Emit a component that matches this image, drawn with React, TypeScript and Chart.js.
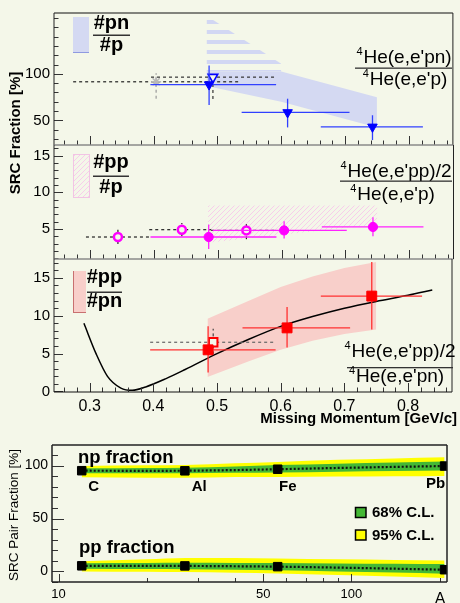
import React, { useEffect, useRef } from 'react';
import { Chart, registerables } from 'chart.js';

Chart.register(...registerables);

const W = 460;
const H = 603;
const BG = '#f4f7e9';
const FONT = '"Liberation Sans", Arial, Helvetica, sans-serif';

// ---------- Missing-momentum panels (shared x axis) ----------
const mmMin = 0.244;
const mmMax = 0.869;
const mmTickLabels = [0.3, 0.4, 0.5, 0.6, 0.7, 0.8];

// Panel 1 : #pn / #p
const pnYLabels = [50, 100];
const pnX = [0.487, 0.61, 0.743];
const pnY = [88.5, 58.5, 43.0];
const pnXLo = [0.395, 0.538, 0.662];
const pnXHi = [0.592, 0.707, 0.822];
const pnYLo = [66.5, 42.4, 28.8];
const pnYHi = [109.0, 73.3, 55.5];
const pnOpenX = [0.493];
const pnOpenY = [96.5];
const pnOpenXLo = [0.396];
const pnOpenXHi = [0.593];
const pnOpenYLo = [73.0];
const pnOpenYHi = [100.0];
const pnStarX = [0.404];
const pnStarY = [91.5];
const pnStarXLo = [0.274];
const pnStarXHi = [0.533];
const pnStarYLo = [73.3];
const pnStarYHi = [100.7];
const pnBandX = [0.483, 0.6, 0.75];
const pnBandLo = [87.0, 70.0, 42.4];
const pnBandHi = [102.5, 102.5, 75.0];
const pnBandUpX = [0.483, 0.6];
const pnBandUpLo = [102.5, 102.5];
const pnBandUpHi = [162.6, 111.0];

// Panel 2 : #pp / #p
const ppYLabels = [5, 10, 15];
const ppX = [0.486, 0.604, 0.743];
const ppY = [3.9, 4.8, 5.27];
const ppXLo = [0.395, 0.492, 0.663];
const ppXHi = [0.592, 0.702, 0.822];
const ppYLo = [2.27, 3.68, 3.99];
const ppYHi = [5.6, 6.04, 6.58];
const ppOpenX = [0.344, 0.444, 0.545];
const ppOpenY = [3.9, 4.9, 4.8];
const ppOpenXLo = [0.294, 0.393, 0.49];
const ppOpenXHi = [0.395, 0.49, 0.593];
const ppOpenYLo = [2.95, 4.0, 3.6];
const ppOpenYHi = [4.9, 5.8, 6.0];
const ppBandX = [0.485, 0.6, 0.75];
const ppBandLo = [3.1, 4.2, 5.6];
const ppBandHi = [8.2, 8.2, 8.2];

// Panel 3 : #pp / #pn
const rYLabels = [0, 5, 10, 15];
const rX = [0.486, 0.61, 0.743];
const rY = [5.5, 8.4, 12.6];
const rXLo = [0.395, 0.54, 0.663];
const rXHi = [0.592, 0.709, 0.822];
const rYLo = [2.5, 5.8, 8.2];
const rYHi = [8.6, 11.15, 17.1];
const rOpenX = [0.494];
const rOpenY = [6.5];
const rOpenXLo = [0.395];
const rOpenXHi = [0.592];
const rOpenYLo = [4.9];
const rOpenYHi = [8.3];
const rBandX = [0.485, 0.55, 0.6, 0.65, 0.7, 0.75];
const rBandLo = [1.9, 4.0, 5.5, 6.7, 7.6, 8.2];
const rBandHi = [9.6, 12.0, 13.8, 15.2, 16.3, 17.1];
const curveX = [0.291, 0.31, 0.328, 0.349, 0.367, 0.388, 0.42, 0.45, 0.5, 0.55, 0.6, 0.65, 0.7, 0.75, 0.8, 0.838];
const curveY = [9.0, 5.0, 2.0, 0.45, 0.15, 0.6, 1.7, 2.9, 5.0, 6.9, 8.6, 9.9, 11.0, 11.9, 12.7, 13.4];

// ---------- SRC pair fraction vs A ----------
const aTickLabels = [10, 50, 100];
const aYLabels = [0, 50, 100];
const nucA = [12, 27, 56, 208];
const nucNames = ['C', 'Al', 'Fe', 'Pb'];
const npFrac = [95.2, 95.1, 96.6, 99.6];
const ppFrac = [5.3, 5.2, 4.5, 1.6];
const bandA = [12, 20, 27, 40, 56, 90, 140, 208];
const npMid = [95.2, 95.1, 95.2, 95.8, 96.6, 97.8, 98.8, 99.6];
const np68Lo = [92.8, 92.7, 92.8, 93.2, 93.6, 94.3, 94.9, 95.3];
const np68Hi = [97.5, 97.7, 98.0, 99.2, 100.5, 101.8, 102.9, 103.8];
const np95Lo = [89.0, 88.6, 88.5, 89.2, 89.3, 89.7, 90.0, 90.3];
const np95Hi = [99.7, 100.3, 100.7, 102.3, 103.5, 105.5, 106.8, 107.9];
const ppMid = [5.3, 5.3, 5.2, 4.9, 4.5, 3.6, 2.6, 1.6];
const pp68Lo = [2.6, 2.3, 2.1, 1.6, 1.0, 0.0, -1.0, -2.2];
const pp68Hi = [7.8, 8.0, 8.1, 8.0, 7.9, 7.6, 7.3, 7.0];
const pp95Lo = [0.0, -0.3, -0.6, -1.3, -2.0, -3.3, -4.8, -6.2];
const pp95Hi = [9.5, 11.5, 12.8, 12.8, 12.3, 11.5, 10.9, 10.4];

// ---------- helpers ----------
const xy = (xs: number[], ys: number[]) => xs.map((x, i) => ({ x, y: ys[i] }));

function makePatterns() {
  const mk = (w: number, h: number, draw: (g: CanvasRenderingContext2D) => void) => {
    const c = document.createElement('canvas');
    c.width = w;
    c.height = h;
    const g = c.getContext('2d')!;
    draw(g);
    return g.createPattern(c, 'repeat')!;
  };
  return {
    blueDense: '#d4d9f2',
    blueStripe: mk(1, 10, (g) => {
      g.fillStyle = '#d2d7f3';
      g.fillRect(0, 0, 1, 4);
    }),
    pinkHatch: mk(5, 5, (g) => {
      g.fillStyle = '#f7cdea';
      for (let i = 0; i < 5; i++) g.fillRect(i, 4 - i, 1, 1);
    }),
    redDots: '#f8cfca',
  };
}

const errorBarPlugin = {
  id: 'errbars',
  beforeDatasetDraw(chart: any, args: any) {
    const ds = chart.data.datasets[args.index];
    const eb = ds.eb;
    if (!eb) return;
    const xs = chart.scales.x;
    const ys = chart.scales.y;
    const ctx = chart.ctx as CanvasRenderingContext2D;
    ctx.save();
    ctx.lineWidth = eb.width;
    ctx.setLineDash(eb.dash);
    ds.data.forEach((p: any, i: number) => {
      const px = xs.getPixelForValue(p.x);
      const py = ys.getPixelForValue(p.y);
      ctx.strokeStyle = eb.hColor;
      ctx.beginPath();
      ctx.moveTo(xs.getPixelForValue(eb.xl[i]), py);
      ctx.lineTo(xs.getPixelForValue(eb.xh[i]), py);
      ctx.stroke();
      ctx.strokeStyle = eb.vColor;
      ctx.beginPath();
      ctx.moveTo(px, ys.getPixelForValue(eb.yl[i]));
      ctx.lineTo(px, ys.getPixelForValue(eb.yh[i]));
      ctx.stroke();
    });
    ctx.restore();
  },
};

function framePlugin(f: any) {
  return {
    id: 'frame',
    afterDatasetsDraw(chart: any) {
      const ctx = chart.ctx as CanvasRenderingContext2D;
      const a = chart.chartArea;
      const xs = chart.scales.x;
      const ys = chart.scales.y;
      ctx.save();
      ctx.setLineDash([]);
      ctx.lineWidth = 1;
      ctx.strokeStyle = f.tickColor;
      const seg = (x1: number, y1: number, x2: number, y2: number) => {
        ctx.beginPath();
        ctx.moveTo(x1, y1);
        ctx.lineTo(x2, y2);
        ctx.stroke();
      };
      for (let v = Math.ceil(ys.min / f.yMinor) * f.yMinor; v <= ys.max + 1e-9; v += f.yMinor) {
        const y = Math.round(ys.getPixelForValue(v)) + 0.5;
        const major = f.yMajor.some((m: number) => Math.abs(m - v) < 1e-6);
        seg(a.left, y, a.left + (major ? f.yMajorLen : f.yMinorLen), y);
      }
      const xt = (v: number, len: number) => {
        const x = Math.round(xs.getPixelForValue(v)) + 0.5;
        seg(x, a.bottom, x, a.bottom - len);
      };
      f.xMinor.forEach((v: number) => xt(v, f.xMinorLen));
      f.xMajor.forEach((v: number) => xt(v, f.xMajorLen));
      ctx.lineWidth = f.lw;
      ctx.strokeStyle = f.topColor;
      seg(a.left, a.top, a.right, a.top);
      ctx.strokeStyle = f.bottomColor;
      seg(a.left, a.bottom, a.right, a.bottom);
      ctx.strokeStyle = f.sideColor;
      seg(a.left, a.top, a.left, a.bottom);
      seg(a.right, a.top, a.right, a.bottom);
      ctx.restore();
    },
  };
}

function textPlugin(draw: (ctx: CanvasRenderingContext2D, chart: any) => void) {
  return {
    id: 'texts',
    afterDraw(chart: any) {
      const ctx = chart.ctx as CanvasRenderingContext2D;
      ctx.save();
      draw(ctx, chart);
      ctx.restore();
    },
  };
}

function drawHe(ctx: CanvasRenderingContext2D, cx: number, base: number, main: string, size: number) {
  ctx.font = `${size}px ${FONT}`;
  const wMain = ctx.measureText(main).width;
  ctx.font = `${Math.round(size * 0.6)}px ${FONT}`;
  const wSup = ctx.measureText('4').width;
  const start = cx - (wMain + wSup + 1) / 2;
  ctx.textAlign = 'left';
  ctx.textBaseline = 'alphabetic';
  ctx.fillStyle = '#000';
  ctx.fillText('4', start, base - size * 0.42);
  ctx.font = `${size}px ${FONT}`;
  ctx.fillText(main, start + wSup + 1, base);
}

function drawFrac(ctx: CanvasRenderingContext2D, cx: number, top: string, bottom: string, b1: number, b2: number) {
  ctx.fillStyle = '#000';
  ctx.font = `bold 20px ${FONT}`;
  ctx.textAlign = 'center';
  ctx.textBaseline = 'alphabetic';
  ctx.fillText(top, cx, b1);
  ctx.fillText(bottom, cx, b2);
}

const minorMM: number[] = [];
for (let i = 13; i <= 43; i++) minorMM.push(i * 0.02);

function yScale(min: number, max: number, labels: number[], width: number, size: number) {
  return {
    type: 'linear',
    min,
    max,
    afterBuildTicks: (s: any) => {
      s.ticks = labels.map((v) => ({ value: v }));
    },
    afterFit: (s: any) => {
      s.width = width;
    },
    grid: { display: false, drawTicks: false },
    border: { display: false },
    ticks: {
      color: '#000',
      font: { family: FONT, size },
      padding: 4,
      autoSkip: false,
      callback: (v: any) => String(v),
    },
  };
}

function common(padding: any, scales: any) {
  return {
    responsive: false,
    animation: false,
    events: [],
    layout: { padding },
    plugins: { legend: { display: false }, tooltip: { enabled: false } },
    scales,
  };
}

const xHidden = { type: 'linear', min: mmMin, max: mmMax, display: false };

function band(xs: number[], lo: number[], hi: number[], fill: any, order: number) {
  return [
    { data: xy(xs, lo), borderWidth: 0, pointRadius: 0, fill: false, order, borderColor: 'rgba(0,0,0,0)' },
    { data: xy(xs, hi), borderWidth: 0, pointRadius: 0, fill: '-1', backgroundColor: fill, order, borderColor: 'rgba(0,0,0,0)' },
  ];
}

function pts(xs: number[], ys: number[], style: any, eb: any, order: number) {
  return {
    data: xy(xs, ys),
    showLine: false,
    order,
    eb,
    ...style,
  };
}

export default function App() {
  const c1 = useRef<HTMLCanvasElement>(null);
  const c2 = useRef<HTMLCanvasElement>(null);
  const c3 = useRef<HTMLCanvasElement>(null);
  const c4 = useRef<HTMLCanvasElement>(null);

  useEffect(() => {
    const P = makePatterns();
    const frameTop = {
      tickColor: '#333',
      yMajorLen: 9,
      yMinorLen: 4.5,
      xMajor: mmTickLabels,
      xMinor: minorMM,
      xMajorLen: 9,
      xMinorLen: 4.5,
      lw: 1,
      sideColor: '#222',
    };

    // ---- panel 1 ----
    const ch1 = new Chart(c1.current!, {
      type: 'line',
      data: {
        datasets: [
          ...band(pnBandX, pnBandLo, pnBandHi, P.blueDense, 10),
          ...band(pnBandUpX, pnBandUpLo, pnBandUpHi, P.blueStripe, 10),
          pts(pnStarX, pnStarY, { pointStyle: 'star', pointRadius: 5, borderColor: '#b8b8b8', pointBorderColor: '#b8b8b8', pointBorderWidth: 1.5 },
            { xl: pnStarXLo, xh: pnStarXHi, yl: pnStarYLo, yh: pnStarYHi, hColor: '#222', vColor: '#999', dash: [3, 3], width: 1.2 }, 3),
          pts(pnOpenX, pnOpenY, { pointStyle: 'triangle', rotation: 180, pointRadius: 5.5, pointBackgroundColor: BG, pointBorderColor: '#0000ff', pointBorderWidth: 1.6 },
            { xl: pnOpenXLo, xh: pnOpenXHi, yl: pnOpenYLo, yh: pnOpenYHi, hColor: '#333', vColor: '#333', dash: [3, 3], width: 1.2 }, 2),
          pts(pnX, pnY, { pointStyle: 'triangle', rotation: 180, pointRadius: 5.5, pointBackgroundColor: '#0000ff', pointBorderColor: '#0000ff', pointBorderWidth: 1 },
            { xl: pnXLo, xh: pnXHi, yl: pnYLo, yh: pnYHi, hColor: '#3040ff', vColor: '#3040ff', dash: [], width: 1.3 }, 1),
        ] as any,
      },
      options: common({ left: 0, right: 4, top: 7, bottom: H - 145 }, {
        x: xHidden,
        y: yScale(23.5, 165.5, pnYLabels, 54, 15),
      }) as any,
      plugins: [
        errorBarPlugin,
        framePlugin({ ...frameTop, yMajor: [50, 100], yMinor: 10, topColor: '#111', bottomColor: '#8a8a8a' }),
        textPlugin((ctx) => {
          ctx.fillStyle = P.blueDense;
          ctx.fillRect(73, 17, 16, 36);
          ctx.fillStyle = '#8f9ae0';
          ctx.fillRect(73, 52, 16, 1);
          drawFrac(ctx, 111.5, '#pn', '#p', 28.5, 50.5);
          ctx.fillStyle = '#333';
          ctx.fillRect(93, 34.5, 37, 1.5);
          drawHe(ctx, 404, 63, "He(e,e'pn)", 19);
          ctx.fillStyle = '#333';
          ctx.fillRect(355, 67.5, 97, 1.3);
          drawHe(ctx, 405, 85, "He(e,e'p)", 19);
          ctx.save();
          ctx.translate(16, 133);
          ctx.rotate(-Math.PI / 2);
          ctx.font = `bold 15px ${FONT}`;
          ctx.textAlign = 'center';
          ctx.textBaseline = 'middle';
          ctx.fillStyle = '#000';
          ctx.fillText('SRC Fraction [%]', 0, 0);
          ctx.restore();
        }),
      ],
    });

    // ---- panel 2 ----
    const ch2 = new Chart(c2.current!, {
      type: 'line',
      data: {
        datasets: [
          ...band(ppBandX, ppBandLo, ppBandHi, P.pinkHatch, 10),
          pts(ppOpenX, ppOpenY, { pointStyle: 'circle', pointRadius: 4, pointBackgroundColor: BG, pointBorderColor: '#ff00ff', pointBorderWidth: 2.5 },
            { xl: ppOpenXLo, xh: ppOpenXHi, yl: ppOpenYLo, yh: ppOpenYHi, hColor: '#222', vColor: '#222', dash: [3, 3], width: 1.2 }, 2),
          pts(ppX, ppY, { pointStyle: 'circle', pointRadius: 4.6, pointBackgroundColor: '#ff00ff', pointBorderColor: '#ff00ff', pointBorderWidth: 1 },
            { xl: ppXLo, xh: ppXHi, yl: ppYLo, yh: ppYHi, hColor: '#ff22ff', vColor: '#ff22ff', dash: [], width: 1.3 }, 1),
        ] as any,
      },
      options: common({ left: 0, right: 4, top: 145, bottom: H - 259 }, {
        x: xHidden,
        y: yScale(0.9, 16.45, ppYLabels, 54, 15),
      }) as any,
      plugins: [
        errorBarPlugin,
        framePlugin({ ...frameTop, yMajor: [5, 10, 15], yMinor: 1, topColor: '#8a8a8a', bottomColor: '#8a8a8a' }),
        textPlugin((ctx) => {
          ctx.fillStyle = P.pinkHatch;
          ctx.fillRect(73, 154, 17, 44);
          ctx.strokeStyle = '#f2c4e4';
          ctx.lineWidth = 1;
          ctx.strokeRect(73.5, 154.5, 16, 43);
          drawFrac(ctx, 111, '#pp', '#p', 168.3, 193.3);
          ctx.fillStyle = '#333';
          ctx.fillRect(93, 175.5, 36, 1.5);
          drawHe(ctx, 396, 176.7, "He(e,e'pp)/2", 19);
          ctx.fillStyle = '#333';
          ctx.fillRect(340, 180.5, 112, 1.3);
          drawHe(ctx, 392.5, 200, "He(e,e'p)", 19);
        }),
      ],
    });

    // ---- panel 3 ----
    const ch3 = new Chart(c3.current!, {
      type: 'line',
      data: {
        datasets: [
          ...band(rBandX, rBandLo, rBandHi, P.redDots, 10),
          {
            data: xy(curveX, curveY),
            borderColor: '#000',
            borderWidth: 1.5,
            pointRadius: 0,
            fill: false,
            cubicInterpolationMode: 'monotone',
            order: 5,
          },
          pts(rOpenX, rOpenY, { pointStyle: 'rect', pointRadius: 6, pointBackgroundColor: BG, pointBorderColor: '#ff0000', pointBorderWidth: 2 },
            { xl: rOpenXLo, xh: rOpenXHi, yl: rOpenYLo, yh: rOpenYHi, hColor: '#666', vColor: '#444', dash: [3, 3], width: 1.2 }, 2),
          pts(rX, rY, { pointStyle: 'rect', pointRadius: 7, pointBackgroundColor: '#ff0000', pointBorderColor: '#ff0000', pointBorderWidth: 1 },
            { xl: rXLo, xh: rXHi, yl: rYLo, yh: rYHi, hColor: '#ff3030', vColor: '#ff3030', dash: [], width: 1.3 }, 1),
        ] as any,
      },
      options: common({ left: 0, right: 4, top: 259, bottom: H - 392 - 22 }, {
        x: {
          type: 'linear',
          min: mmMin,
          max: mmMax,
          afterBuildTicks: (s: any) => {
            s.ticks = mmTickLabels.map((v) => ({ value: v }));
          },
          afterFit: (s: any) => {
            s.height = 22;
          },
          grid: { display: false, drawTicks: false },
          border: { display: false },
          ticks: {
            color: '#000',
            font: { family: FONT, size: 16 },
            padding: 5,
            maxRotation: 0,
            autoSkip: false,
            callback: (v: any) => Number(v).toFixed(1),
          },
        },
        y: yScale(-0.07, 17.5, rYLabels, 54, 15),
      }) as any,
      plugins: [
        errorBarPlugin,
        framePlugin({ ...frameTop, yMajor: [0, 5, 10, 15], yMinor: 1, topColor: '#8a8a8a', bottomColor: '#111' }),
        textPlugin((ctx) => {
          ctx.fillStyle = P.redDots;
          ctx.fillRect(73, 271, 13, 42);
          ctx.fillStyle = '#c87070';
          ctx.fillRect(73, 271, 1, 42);
          ctx.fillRect(73, 312, 13, 1);
          drawFrac(ctx, 104.5, '#pp', '#pn', 283.3, 306.7);
          ctx.fillStyle = '#333';
          ctx.fillRect(87, 291.5, 35, 1.5);
          drawHe(ctx, 400, 356.7, "He(e,e'pp)/2", 19);
          ctx.fillStyle = '#333';
          ctx.fillRect(347, 367, 106, 1.3);
          drawHe(ctx, 396.5, 382, "He(e,e'pn)", 19);
          ctx.font = `bold 15px ${FONT}`;
          ctx.textAlign = 'right';
          ctx.textBaseline = 'alphabetic';
          ctx.fillStyle = '#000';
          ctx.fillText('Missing Momentum [GeV/c]', 457, 423);
        }),
      ],
    });

    // ---- pair fraction vs A ----
    const bandSet = (lo: number[], hi: number[], color: string, order: number) =>
      band(bandA, lo, hi, color, order).map((d: any) => ({ ...d, cubicInterpolationMode: 'monotone' }));
    const midLine = (ys: number[]) => ({
      data: xy(bandA, ys),
      borderColor: '#111',
      borderWidth: 2.2,
      borderDash: [2, 2],
      pointRadius: 0,
      fill: false,
      cubicInterpolationMode: 'monotone',
      order: 3,
    });
    const markers = (ys: number[]) => ({
      data: xy(nucA, ys),
      showLine: false,
      pointStyle: 'rect',
      pointRadius: 6,
      pointBackgroundColor: '#000',
      pointBorderColor: '#000',
      pointBorderWidth: 1,
      order: 1,
    });
    const YEL = '#ffff00';
    const GRN = '#44b835';
    const ch4 = new Chart(c4.current!, {
      type: 'line',
      data: {
        datasets: [
          ...bandSet(np95Lo, np95Hi, YEL, 6),
          ...bandSet(np68Lo, np68Hi, GRN, 5),
          midLine(npMid),
          markers(npFrac),
          ...bandSet(pp95Lo, pp95Hi, YEL, 6),
          ...bandSet(pp68Lo, pp68Hi, GRN, 5),
          midLine(ppMid),
          markers(ppFrac),
        ] as any,
      },
      options: common({ left: 0, right: 13, top: 445, bottom: 0 }, {
        x: {
          type: 'logarithmic',
          min: 9.5,
          max: 212,
          afterBuildTicks: (s: any) => {
            s.ticks = aTickLabels.map((v) => ({ value: v }));
          },
          afterFit: (s: any) => {
            s.height = H - 582;
          },
          grid: { display: false, drawTicks: false },
          border: { display: false },
          ticks: {
            color: '#000',
            font: { family: FONT, size: 13 },
            padding: 5,
            maxRotation: 0,
            autoSkip: false,
            callback: (v: any) => String(v),
          },
        },
        y: yScale(-10, 119.5, aYLabels, 52, 14),
      }) as any,
      plugins: [
        framePlugin({
          tickColor: '#333',
          yMajor: [0, 50, 100],
          yMinor: 10,
          yMajorLen: 12,
          yMinorLen: 6,
          xMajor: [10, 50, 100],
          xMinor: [20, 30, 40, 60, 70, 80, 90, 200],
          xMajorLen: 8,
          xMinorLen: 4,
          lw: 1.5,
          topColor: '#222',
          bottomColor: '#222',
          sideColor: '#222',
        }),
        textPlugin((ctx) => {
          ctx.fillStyle = '#000';
          ctx.textAlign = 'left';
          ctx.textBaseline = 'alphabetic';
          ctx.font = `bold 18.5px ${FONT}`;
          ctx.fillText('np fraction', 78, 463.3);
          ctx.fillText('pp fraction', 79, 553.3);
          ctx.font = `bold 15px ${FONT}`;
          const namePos = [
            [88.3, 491],
            [191.7, 491],
            [279, 491],
            [426, 488],
          ];
          nucNames.forEach((n, i) => ctx.fillText(n, namePos[i][0], namePos[i][1]));
          ctx.lineWidth = 1.5;
          ctx.strokeStyle = '#000';
          ctx.fillStyle = GRN;
          ctx.fillRect(355.5, 507.5, 10.5, 10);
          ctx.strokeRect(355.5, 507.5, 10.5, 10);
          ctx.fillStyle = YEL;
          ctx.fillRect(355.5, 530, 10.5, 10);
          ctx.strokeRect(355.5, 530, 10.5, 10);
          ctx.fillStyle = '#000';
          ctx.textBaseline = 'middle';
          ctx.fillText('68% C.L.', 372, 513);
          ctx.fillText('95% C.L.', 372, 535.5);
          ctx.font = `16px ${FONT}`;
          ctx.textAlign = 'center';
          ctx.textBaseline = 'alphabetic';
          ctx.fillText('A', 440, 604);
          ctx.save();
          ctx.translate(14, 515);
          ctx.rotate(-Math.PI / 2);
          ctx.font = `13.5px ${FONT}`;
          ctx.textAlign = 'center';
          ctx.textBaseline = 'middle';
          ctx.fillText('SRC Pair Fraction [%]', 0, 0);
          ctx.restore();
        }),
      ],
    });

    return () => {
      ch1.destroy();
      ch2.destroy();
      ch3.destroy();
      ch4.destroy();
    };
  }, []);

  const cs: React.CSSProperties = { position: 'absolute', left: 0, top: 0, width: W, height: H };
  return (
    <div style={{ position: 'absolute', left: 0, top: 0, width: W, height: H, background: BG, overflow: 'hidden' }}>
      <canvas ref={c1} width={W} height={H} style={cs} />
      <canvas ref={c2} width={W} height={H} style={cs} />
      <canvas ref={c3} width={W} height={H} style={cs} />
      <canvas ref={c4} width={W} height={H} style={cs} />
    </div>
  );
}
